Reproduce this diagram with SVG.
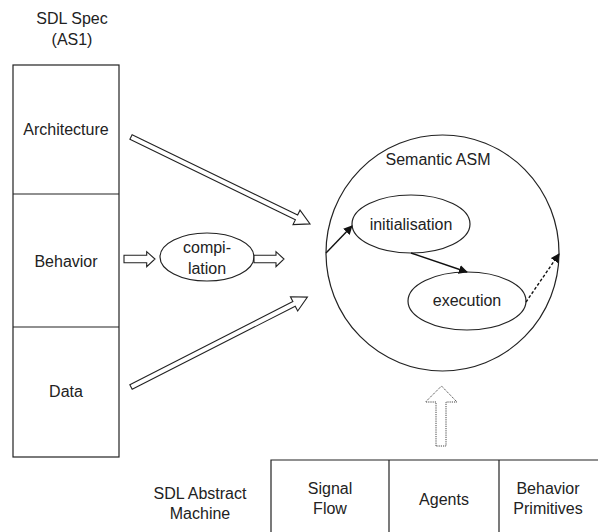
<svg xmlns="http://www.w3.org/2000/svg" width="598" height="532" viewBox="0 0 598 532">
  <style>
    text { font-family: "Liberation Sans", Arial, sans-serif; font-size: 16px; fill: #222; text-anchor: middle; }
    .box { fill: none; stroke: #222; stroke-width: 1.2; }
    .hollow { fill: #fff; stroke: #222; stroke-width: 1.1; stroke-linejoin: miter; }
    .flow { fill: none; stroke: #111; stroke-width: 1.4; }
    .dotted { fill: #fff; stroke: #444; stroke-width: 1; stroke-dasharray: 1.2 1; }
  </style>
  <defs>
    <marker id="head" viewBox="0 0 10 10" refX="9" refY="5" markerWidth="9" markerHeight="9" markerUnits="userSpaceOnUse" orient="auto">
      <path d="M0,0 L10,5 L0,10 z" fill="#111"/>
    </marker>
  </defs>

  <!-- SDL specification (AS1) column -->
  <g id="spec">
    <text x="72" y="24">SDL Spec</text>
    <text x="72" y="45">(AS1)</text>
    <rect class="box" x="13" y="65" width="106" height="392"/>
    <line class="box" x1="13" y1="194" x2="119" y2="194"/>
    <line class="box" x1="13" y1="327" x2="119" y2="327"/>
  </g>
  <g id="architecture"><text x="66" y="135">Architecture</text></g>
  <g id="behavior"><text x="66" y="267">Behavior</text></g>
  <g id="data"><text x="66" y="397">Data</text></g>

  <!-- compilation step -->
  <g id="compilation">
    <ellipse class="box" cx="207" cy="257" rx="47" ry="24"/>
    <text x="207" y="253">compi-</text>
    <text x="207" y="274">lation</text>
  </g>

  <!-- Semantic ASM -->
  <g id="semantic-asm">
    <ellipse class="box" cx="442.5" cy="253" rx="116.5" ry="118"/>
    <text x="438" y="165">Semantic ASM</text>
  </g>
  <g id="initialisation">
    <ellipse class="box" cx="411" cy="224" rx="59" ry="29"/>
    <text x="411" y="230">initialisation</text>
  </g>
  <g id="execution">
    <ellipse class="box" cx="467" cy="301" rx="59" ry="29"/>
    <text x="467" y="306">execution</text>
  </g>

  <!-- SDL Abstract Machine -->
  <g id="abstract-machine">
    <text x="200" y="499">SDL Abstract</text>
    <text x="200" y="519">Machine</text>
    <polyline class="box" points="271,540 271,460 600,460"/>
    <line class="box" x1="389" y1="460" x2="389" y2="540"/>
    <line class="box" x1="499" y1="460" x2="499" y2="540"/>
  </g>
  <g id="signal-flow">
    <text x="330" y="494">Signal</text>
    <text x="330" y="514">Flow</text>
  </g>
  <g id="agents"><text x="444" y="505">Agents</text></g>
  <g id="behavior-primitives">
    <text x="548" y="494">Behavior</text>
    <text x="548" y="514">Primitives</text>
  </g>

  <!-- connectors -->
  <g id="connectors">
    <!-- Architecture to Semantic ASM -->
    <polygon class="hollow" transform="translate(131,137) rotate(25.9)" points="0,-2.6 184,-2.6 184,-8 199,0 184,8 184,2.6 0,2.6"/>
    <!-- Data to Semantic ASM -->
    <polygon class="hollow" transform="translate(131,387) rotate(-27)" points="0,-2.6 183,-2.6 183,-8 198,0 183,8 183,2.6 0,2.6"/>
    <!-- Behavior into compilation -->
    <polygon class="hollow" points="124,255.3 146.7,255.3 146.7,251.7 155,259 146.7,266.7 146.7,262.7 124,262.7"/>
    <!-- compilation to Semantic ASM -->
    <polygon class="hollow" points="254,255.3 276,255.3 276,251.7 284,259 276,266.7 276,262.7 254,262.7"/>
    <!-- abstract machine up to Semantic ASM -->
    <polygon class="dotted" points="436,446 436,402 425.5,402 441.5,386 457,402 446,402 446,446"/>
    <!-- flow inside the ASM -->
    <line class="flow" x1="326" y1="253" x2="352" y2="226" marker-end="url(#head)"/>
    <line class="flow" x1="411" y1="253" x2="467" y2="272" marker-end="url(#head)"/>
    <line class="flow" x1="526" y1="302" x2="559" y2="254" stroke-dasharray="3 2" stroke-width="1.1" marker-end="url(#head)"/>
  </g>
</svg>
